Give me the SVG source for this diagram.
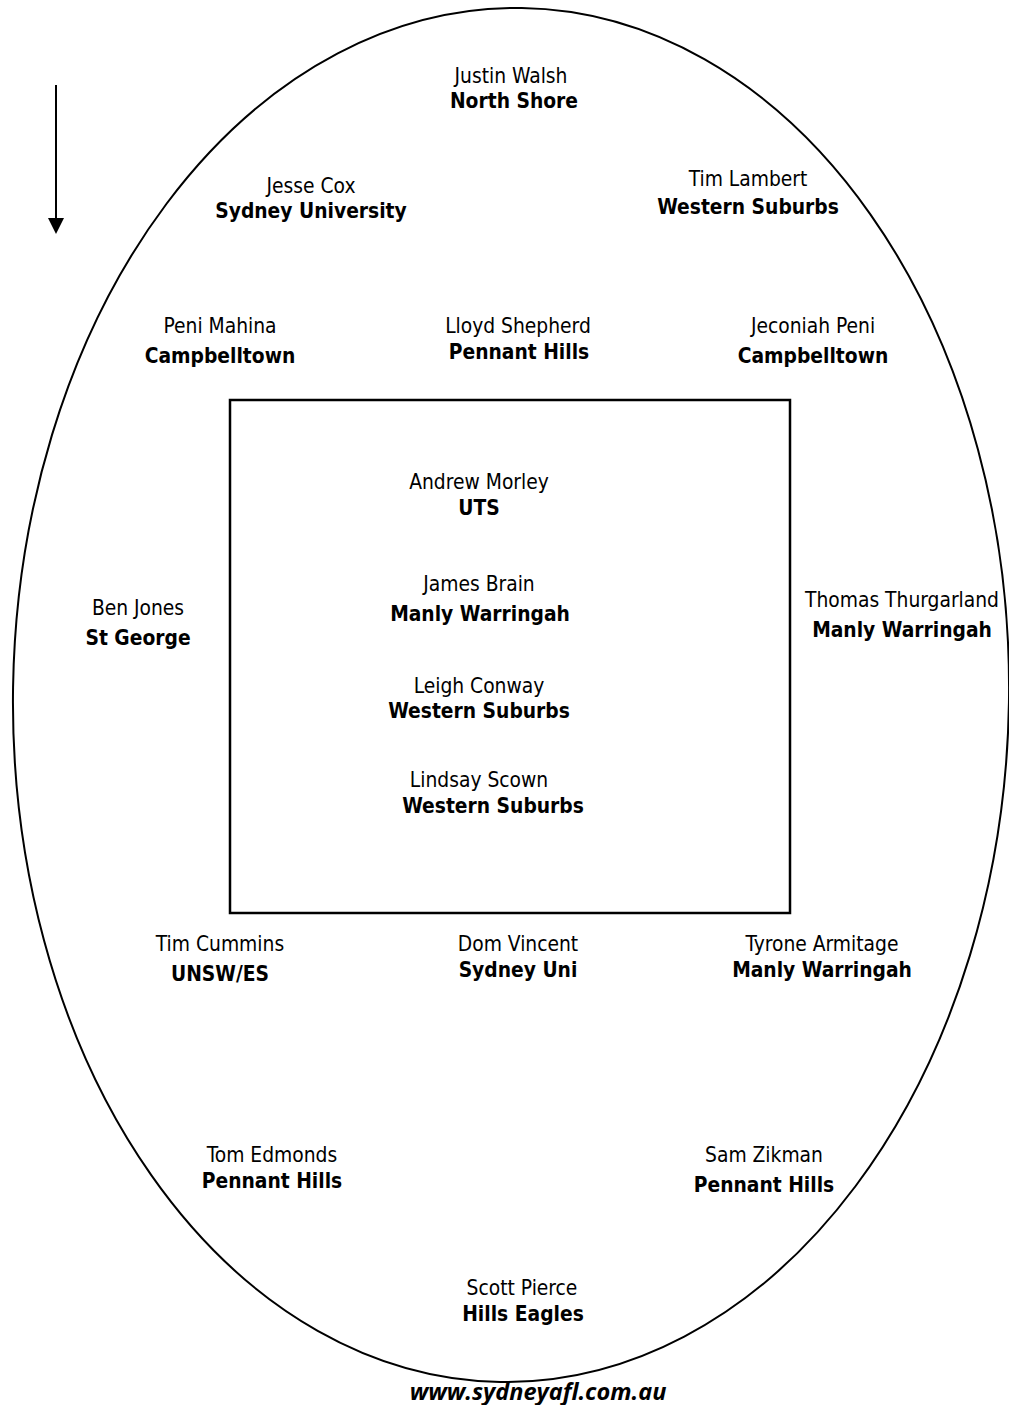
<svg xmlns="http://www.w3.org/2000/svg" width="1009" height="1405" viewBox="0 0 1009 1405">
<style>
text{font-family:"DejaVu Sans Condensed","DejaVu Sans",sans-serif;font-stretch:condensed;font-size:20.8px;fill:#000;text-anchor:middle}
.b{font-weight:bold}
.url{font-family:"Open Sans",sans-serif;font-stretch:normal;font-weight:bold;font-style:italic;font-size:23.5px}
</style>
<rect width="1009" height="1405" fill="#fff"/>
<g id="field">
<ellipse cx="511" cy="695" rx="498" ry="687" fill="none" stroke="#000" stroke-width="2" transform="rotate(0.9 511 695)"/>
<rect x="230" y="400" width="560" height="513" fill="none" stroke="#000" stroke-width="2.5"/>
</g>
<g id="connectors">
<line x1="56" y1="85" x2="56" y2="218" stroke="#000" stroke-width="2"/>
<path d="M48,218 L64,218 L56,234 Z" fill="#000"/>
</g>
<g id="n1"><text x="511" y="83">Justin Walsh</text><text class="b" x="514" y="108">North Shore</text></g>
<g id="n2"><text x="311" y="193">Jesse Cox</text><text class="b" x="311" y="218">Sydney University</text></g>
<g id="n3"><text x="748" y="186">Tim Lambert</text><text class="b" x="748" y="214">Western Suburbs</text></g>
<g id="n4"><text x="220" y="333">Peni Mahina</text><text class="b" x="220" y="363">Campbelltown</text></g>
<g id="n5"><text x="518" y="333">Lloyd Shepherd</text><text class="b" x="519" y="359">Pennant Hills</text></g>
<g id="n6"><text x="813" y="333">Jeconiah Peni</text><text class="b" x="813" y="363">Campbelltown</text></g>
<g id="n7"><text x="479" y="489">Andrew Morley</text><text class="b" x="479" y="515">UTS</text></g>
<g id="n8"><text x="479" y="591">James Brain</text><text class="b" x="480" y="621">Manly Warringah</text></g>
<g id="n9"><text x="479" y="693">Leigh Conway</text><text class="b" x="479" y="718">Western Suburbs</text></g>
<g id="n10"><text x="479" y="787">Lindsay Scown</text><text class="b" x="493" y="813">Western Suburbs</text></g>
<g id="n11"><text x="138" y="615">Ben Jones</text><text class="b" x="138" y="645">St George</text></g>
<g id="n12"><text x="902" y="607">Thomas Thurgarland</text><text class="b" x="902" y="637">Manly Warringah</text></g>
<g id="n13"><text x="220" y="951">Tim Cummins</text><text class="b" x="220" y="981">UNSW/ES</text></g>
<g id="n14"><text x="518" y="951">Dom Vincent</text><text class="b" x="518" y="977">Sydney Uni</text></g>
<g id="n15"><text x="822" y="951">Tyrone Armitage</text><text class="b" x="822" y="977">Manly Warringah</text></g>
<g id="n16"><text x="272" y="1162">Tom Edmonds</text><text class="b" x="272" y="1188">Pennant Hills</text></g>
<g id="n17"><text x="764" y="1162">Sam Zikman</text><text class="b" x="764" y="1192">Pennant Hills</text></g>
<g id="n18"><text x="522" y="1295">Scott Pierce</text><text class="b" x="523" y="1321">Hills Eagles</text></g>
<text class="url" x="538" y="1400">www.sydneyafl.com.au</text>
</svg>
